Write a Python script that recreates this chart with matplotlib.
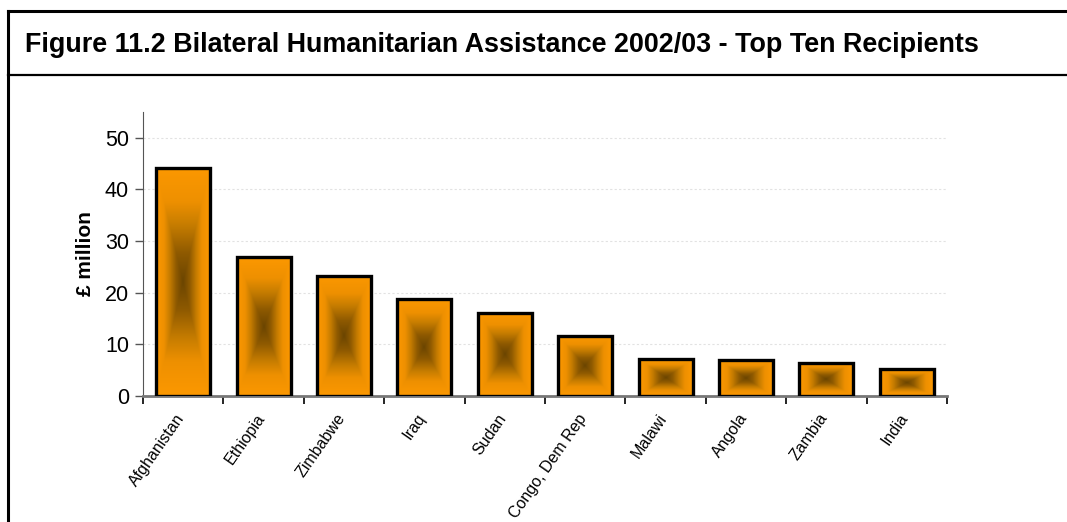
import numpy as np
import matplotlib.pyplot as plt
from matplotlib.colors import LinearSegmentedColormap
from matplotlib.lines import Line2D

plt.rcParams['font.family'] = ['Liberation Sans', 'DejaVu Sans']

# Données
pays = ["Afghanistan", "Ethiopia", "Zimbabwe", "Iraq", "Sudan",
        "Congo, Dem Rep", "Malawi", "Angola", "Zambia", "India"]
montants = [44.2, 26.9, 23.3, 18.8, 16.1, 11.7, 7.1, 6.9, 6.4, 5.2]
graduations = [0, 10, 20, 30, 40, 50]

titre = "Figure 11.2 Bilateral Humanitarian Assistance 2002/03 - Top Ten Recipients"

W, H = 1067, 522
fig = plt.figure(figsize=(W / 100, H / 100), dpi=100)
ax = fig.add_axes([143 / W, 1 - 396 / H, (947 - 143) / W, (396 - 112) / H])

# Cadre et titre
fig.add_artist(Line2D([8 / W, 8 / W], [0, 1 - 10.5 / H], color='black', lw=2.2, transform=fig.transFigure))
fig.add_artist(Line2D([8 / W, 1], [1 - 10.5 / H, 1 - 10.5 / H], color='black', lw=2.2, transform=fig.transFigure))
fig.add_artist(Line2D([8 / W, 1], [1 - 75 / H, 1 - 75 / H], color='black', lw=1.6, transform=fig.transFigure))
fig.text(25 / W, 1 - 45 / H, titre, fontsize=19.4, fontweight='bold', va='center', ha='left')

# Dégradé "depuis le centre" (orange aux bords, brun au centre)
degrade = LinearSegmentedColormap.from_list(
    "centre", [(0.0, "#6b4500"), (0.25, "#8f5a00"), (0.5, "#c77d00"),
               (0.7, "#ee9000"), (1.0, "#fc9800")])

x = np.arange(len(pays))
barres = ax.bar(x, montants, width=0.67, facecolor='none', edgecolor='black', linewidth=2.4, zorder=3)

n = 300
u = np.linspace(-1, 1, n)
U, V = np.meshgrid(u, u)
t = np.maximum(np.abs(U), np.abs(V))
for b in barres:
    x0, w, h = b.get_x(), b.get_width(), b.get_height()
    im = ax.imshow(t, cmap=degrade, vmin=0, vmax=1, extent=[x0, x0 + w, 0, h],
                   aspect='auto', origin='lower', zorder=2, interpolation='antialiased')
    im.set_clip_path(b)

ax.set_xlim(-0.5, len(pays) - 0.5)
ax.set_ylim(0, 55)
ax.set_yticks(graduations)
ax.set_yticklabels([str(g) for g in graduations], fontsize=15.5)
ax.set_xticks(np.arange(len(pays) + 1) - 0.5)
ax.set_xticklabels([])
ax.tick_params(axis='x', length=6, width=1.2, color='black', direction='out')
ax.tick_params(axis='y', length=6, width=1, color='#555555', direction='out', pad=4)

for i, p in enumerate(pays):
    ax.text(i - 0.1, -2.9, p, rotation=55, ha='right', va='top', fontsize=11.5,
            rotation_mode='anchor')

ax.yaxis.grid(True, color='#e2e2e2', linestyle=(0, (2, 2)), linewidth=0.8)
ax.set_axisbelow(True)
for s in ['top', 'right']:
    ax.spines[s].set_visible(False)
ax.spines['left'].set_color('#555555')
ax.spines['bottom'].set_color('#777777')
ax.spines['bottom'].set_linewidth(2)
ax.set_ylabel("£ million", fontsize=15, fontweight='bold', labelpad=7)

fig.savefig("out.png", dpi=100)
